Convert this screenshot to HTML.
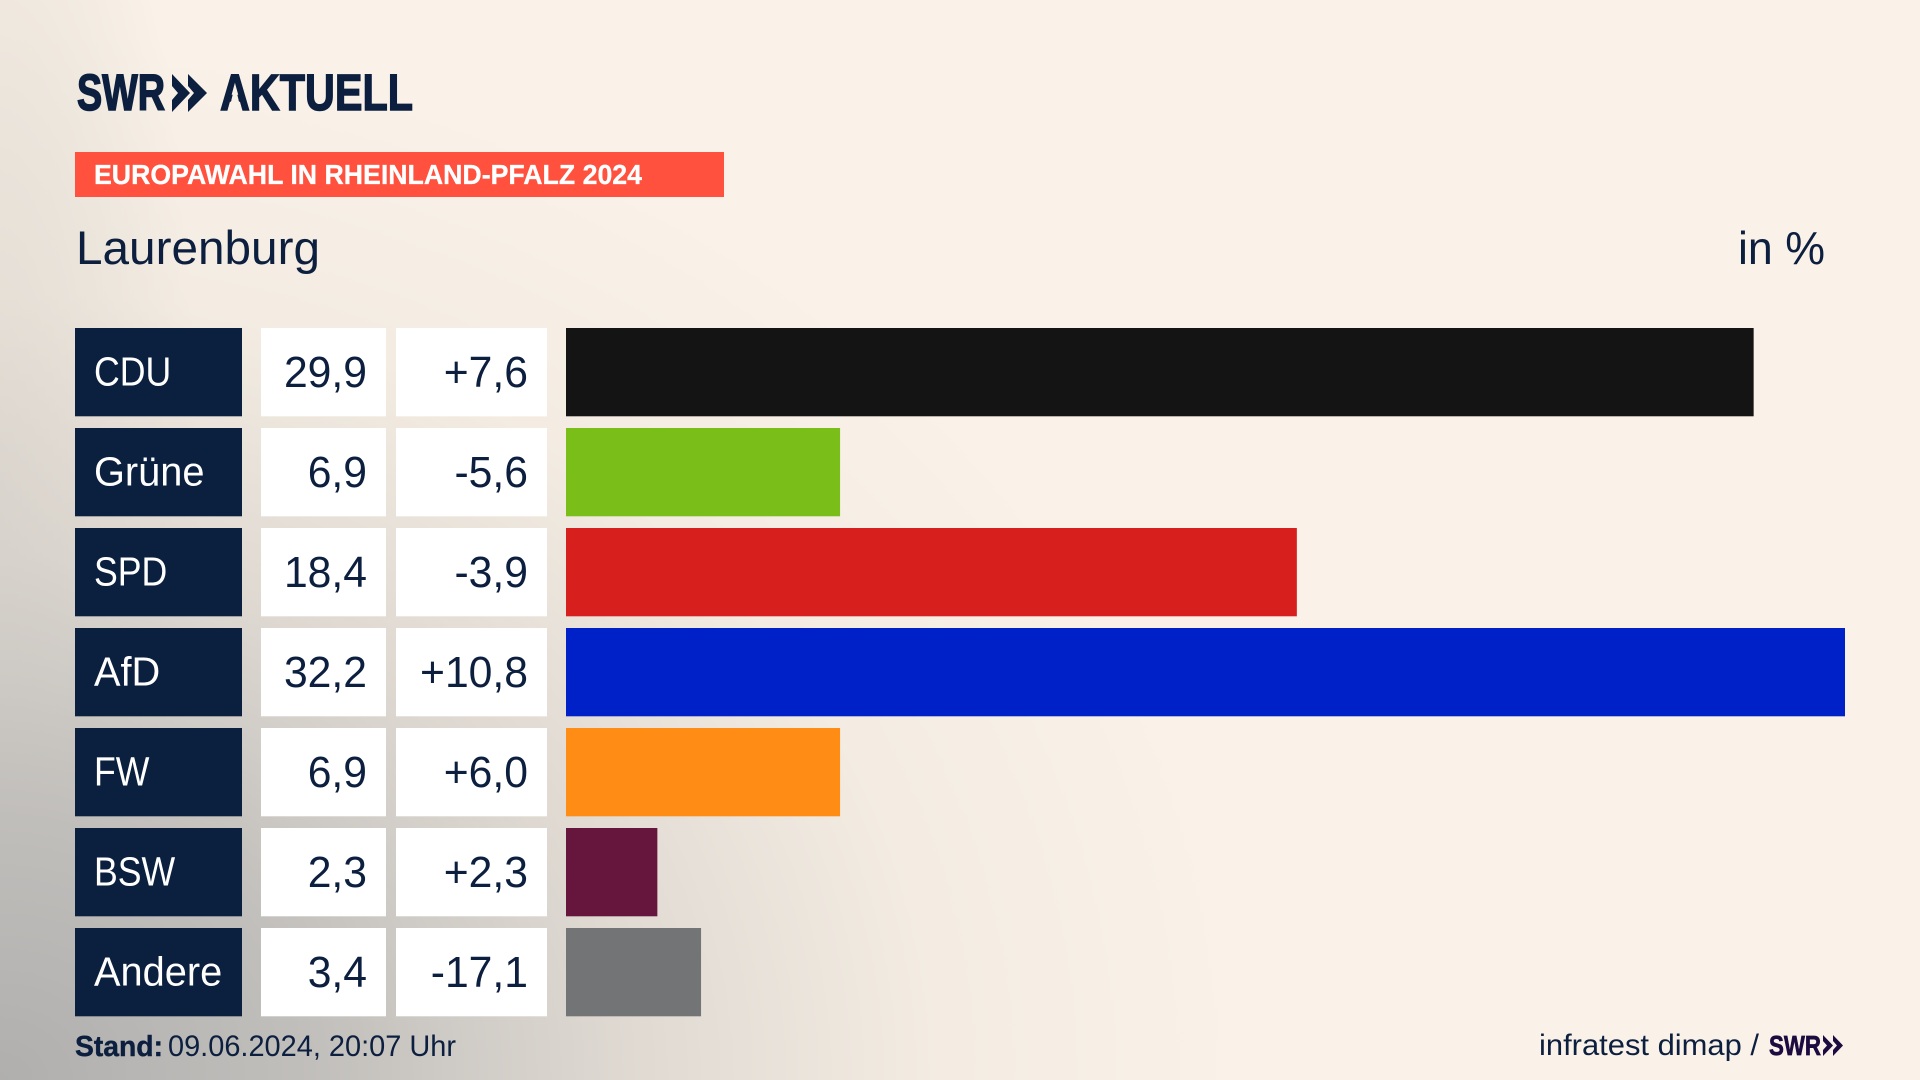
<!DOCTYPE html>
<html lang="de">
<head>
<meta charset="utf-8">
<title>Europawahl in Rheinland-Pfalz 2024 – Laurenburg</title>
<style>
  html, body { margin: 0; padding: 0; width: 1920px; height: 1080px; overflow: hidden; background: #faf2e8; }
  #bg {
    position: absolute; left: 0; top: 0; width: 1920px; height: 1080px;
    background:
      radial-gradient(ellipse 1250px 1050px at 0px 1080px, rgba(176,175,174,1) 0%, rgba(190,188,185,.95) 25%, rgba(212,207,201,.72) 50%, rgba(232,225,216,.36) 75%, rgba(250,242,232,0) 100%),
      radial-gradient(ellipse 200px 800px at 0px 500px, rgba(200,196,190,.55) 0%, rgba(250,242,232,0) 100%),
      #faf2e8;
  }
  svg { position: absolute; left: 0; top: 0; }
  text { font-family: "Liberation Sans", sans-serif; fill: #0c1f3f; }
</style>
</head>
<body>
<div id="bg"></div>
<svg id="chart" width="1920" height="1080" viewBox="0 0 1920 1080" xmlns="http://www.w3.org/2000/svg">
  <defs>
    <clipPath id="a-cut">
      <path clip-rule="evenodd" d="M210 60H430V125H210Z M235 85L241.5 112H228.5Z"/>
    </clipPath>
  </defs>

  <g>
    <text x="77" y="110" font-size="51" font-weight="700" textLength="88" lengthAdjust="spacingAndGlyphs" style="stroke:#0c1f3f;stroke-width:1.6">SWR</text>
    <polygon points="172,74 190,93 172,112 172,100 178,93 172,86" fill="#0c1f3f"/>
    <polygon points="188,74 207,93 188,112 188,100 194,93 188,86" fill="#0c1f3f"/>
    <g clip-path="url(#a-cut)">
      <text x="220" y="110" font-size="51" font-weight="700" textLength="193" lengthAdjust="spacingAndGlyphs" style="stroke:#0c1f3f;stroke-width:1.4">AKTUELL</text>
    </g>
  </g>

  <rect x="75" y="152" width="649" height="45" fill="#ff513d"/>
  <text x="94" y="184" font-size="28" font-weight="700" textLength="548" lengthAdjust="spacingAndGlyphs" style="fill:#fff;stroke:#fff;stroke-width:.3">EUROPAWAHL IN RHEINLAND-PFALZ 2024</text>

  <text x="76" y="264" font-size="47" textLength="244" lengthAdjust="spacingAndGlyphs">Laurenburg</text>
  <text x="1738" y="264" font-size="46" textLength="87" lengthAdjust="spacingAndGlyphs">in %</text>

  <g id="rows"></g>

  <g>
    <text x="75" y="1056" font-size="29" font-weight="700" textLength="88" lengthAdjust="spacingAndGlyphs" style="stroke:#0c1f3f;stroke-width:.4">Stand:</text>
    <text x="168" y="1056" font-size="30" textLength="288" lengthAdjust="spacingAndGlyphs">09.06.2024, 20:07 Uhr</text>
    <text x="1539" y="1055" font-size="30" textLength="220" lengthAdjust="spacingAndGlyphs">infratest dimap /</text>
    <text x="1769" y="1055" font-size="28" font-weight="700" textLength="52" lengthAdjust="spacingAndGlyphs" style="fill:#1c0b40;stroke:#1c0b40;stroke-width:.7">SWR</text>
    <polygon points="1823,1035 1833,1045.5 1823,1056 1823,1050 1827,1045.5 1823,1041" fill="#1c0b40"/>
    <polygon points="1833,1035 1843,1045.5 1833,1056 1833,1050 1837,1045.5 1833,1041" fill="#1c0b40"/>
  </g>
</svg>

<script>
const parties = ["CDU", "Grüne", "SPD", "AfD", "FW", "BSW", "Andere"];
const shares = [29.9, 6.9, 18.4, 32.2, 6.9, 2.3, 3.4];
const changes = [7.6, -5.6, -3.9, 10.8, 6.0, 2.3, -17.1];
const partyColors = ["#141414", "#7abe1a", "#d7201e", "#0020c8", "#ff8c14", "#66163c", "#737476"];

const SVG_NS = "http://www.w3.org/2000/svg";
const rowsGroup = document.getElementById("rows");

/* Axis functions */
function xScale(v) { return 566 + (v / 32.2) * 1279; }
function rowY(i) { return 328 + i * 100; }
const ROW_HEIGHT = 88.3;

function formatShare(v) { return v.toFixed(1).replace(".", ","); }
function formatChange(v) { return (v > 0 ? "+" : "") + v.toFixed(1).replace(".", ","); }

function makeRect(parent, x, y, w, h, fill) {
  const r = document.createElementNS(SVG_NS, "rect");
  r.setAttribute("x", x);
  r.setAttribute("y", y);
  r.setAttribute("width", w);
  r.setAttribute("height", h);
  r.setAttribute("fill", fill);
  parent.appendChild(r);
  return r;
}

function makeText(parent, x, y, size, anchor, content, fill, sx) {
  const t = document.createElementNS(SVG_NS, "text");
  t.setAttribute("transform", "translate(" + x + "," + y + ") scale(" + sx + ",1)");
  t.setAttribute("font-size", size);
  t.setAttribute("text-anchor", anchor);
  if (fill) t.style.fill = fill;
  t.textContent = content;
  parent.appendChild(t);
  return t;
}

parties.forEach(function (party, i) {
  const y = rowY(i);
  const key = party.toLowerCase().replace("ü", "ue");
  const labelScale = party === party.toUpperCase() ? 0.87 : 0.97;

  const row = document.createElementNS(SVG_NS, "g");
  
  
  rowsGroup.appendChild(row);

  const labelBox = makeRect(row, 75, y, 167, ROW_HEIGHT, "#0b1f3e");
  
  

  const label = makeText(row, 94, y + 57.5, 41, "start", party, "#ffffff", labelScale);
  
  

  const shareBox = makeRect(row, 261, y, 125, ROW_HEIGHT, "#ffffff");
  
  

  const shareText = makeText(row, 367, y + 59, 44, "end", formatShare(shares[i]), null, 0.97);
  
  

  const changeBox = makeRect(row, 396, y, 151, ROW_HEIGHT, "#ffffff");
  
  

  const changeText = makeText(row, 528, y + 59, 44, "end", formatChange(changes[i]), null, 0.97);
  
  

  const bar = makeRect(row, xScale(0), y, xScale(shares[i]) - xScale(0), ROW_HEIGHT, partyColors[i]);
  
  
});
</script>
</body>
</html>
